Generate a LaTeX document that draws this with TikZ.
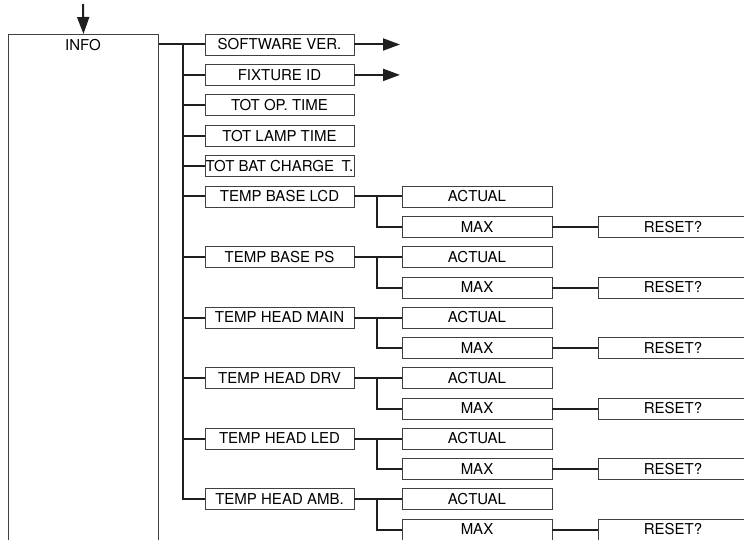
\documentclass[tikz,border=0pt]{standalone}
\usepackage{fontspec}
\setmainfont{TeX Gyre Heros}
\usetikzlibrary{arrows.meta}
\begin{document}
\begin{tikzpicture}[x=1pt,y=-1pt,
  txt/.style={inner xsep=0pt, inner ysep=0pt, text height=10.8pt, text depth=0pt, font=\fontsize{15}{17}\selectfont},
  box/.style={txt, draw=black!75, line width=0.9pt, minimum height=21pt},
  l1/.style={box, minimum width=149pt},
  l2/.style={box, minimum width=150pt},
  conn/.style={line width=2pt, draw=black!88},
  arr/.style={conn, -{Triangle[length=17pt,width=12pt]}}
]
\useasboundingbox (0,0) rectangle (744,540);
\clip (0,0) rectangle (744,540);

% INFO box
\node[draw=black!75, line width=0.9pt, minimum width=150pt, minimum height=530pt, anchor=north west, inner sep=0pt] (info) at (8,34) {};
\node[txt] (infolbl) at (83,45) {INFO};
\coordinate (top) at (83,4);
\draw[arr] (top) -- (info.north);

% level 1
\node[l1] (sw)   at (279.5,44.5)  {SOFTWARE VER.};
\node[l1] (fid)  at (279.5,74.9)  {FIXTURE ID};
\node[l1] (op)   at (279.5,105.3) {TOT OP. TIME};
\node[l1] (lamp) at (279.5,135.7) {TOT LAMP TIME};
\node[l1] (bat)  at (279.5,166.1) {TOT BAT CHARGE\hspace{0.5em}T.};
\node[l1] (g1)   at (279.5,196.5) {TEMP BASE LCD};
\node[l1] (g2)   at (279.5,257)   {TEMP BASE PS};
\node[l1] (g3)   at (279.5,317.5) {TEMP HEAD MAIN};
\node[l1] (g4)   at (279.5,378)   {TEMP HEAD DRV};
\node[l1] (g5)   at (279.5,438.5) {TEMP HEAD LED};
\node[l1] (g6)   at (279.5,499)   {TEMP HEAD AMB.};

% arrows out
\coordinate (swend)  at (400,44.5);
\coordinate (fidend) at (400,74.9);
\draw[arr] (sw.east) -- (swend);
\draw[arr] (fid.east) -- (fidend);

% trunk
\coordinate (tr) at (183.3,44.5);
\draw[conn] (info.north east |- sw.west) -- (sw.west);
\draw[conn] (tr) |- (g6.west);
\foreach \n in {fid,op,lamp,bat,g1,g2,g3,g4,g5}{
  \draw[conn] (tr |- \n.west) -- (\n.west);
}

% level 2
\coordinate (s) at (377,0);
\foreach \i/\y in {1/196.5,2/257,3/317.5,4/378,5/438.5,6/499}{
  \node[l2] (a\i) at (477,\y) {ACTUAL};
  \node[l2] (m\i) at (477,\y+30.5) {MAX};
  \node[l2] (r\i) at (673,\y+30.5) {RESET?};
  \draw[conn] (g\i.east) -- (a\i.west);
  \draw[conn] (g\i.east -| s) |- (m\i.west);
  \draw[conn] (m\i.east) -- (r\i.west);
}
\end{tikzpicture}
\end{document}
